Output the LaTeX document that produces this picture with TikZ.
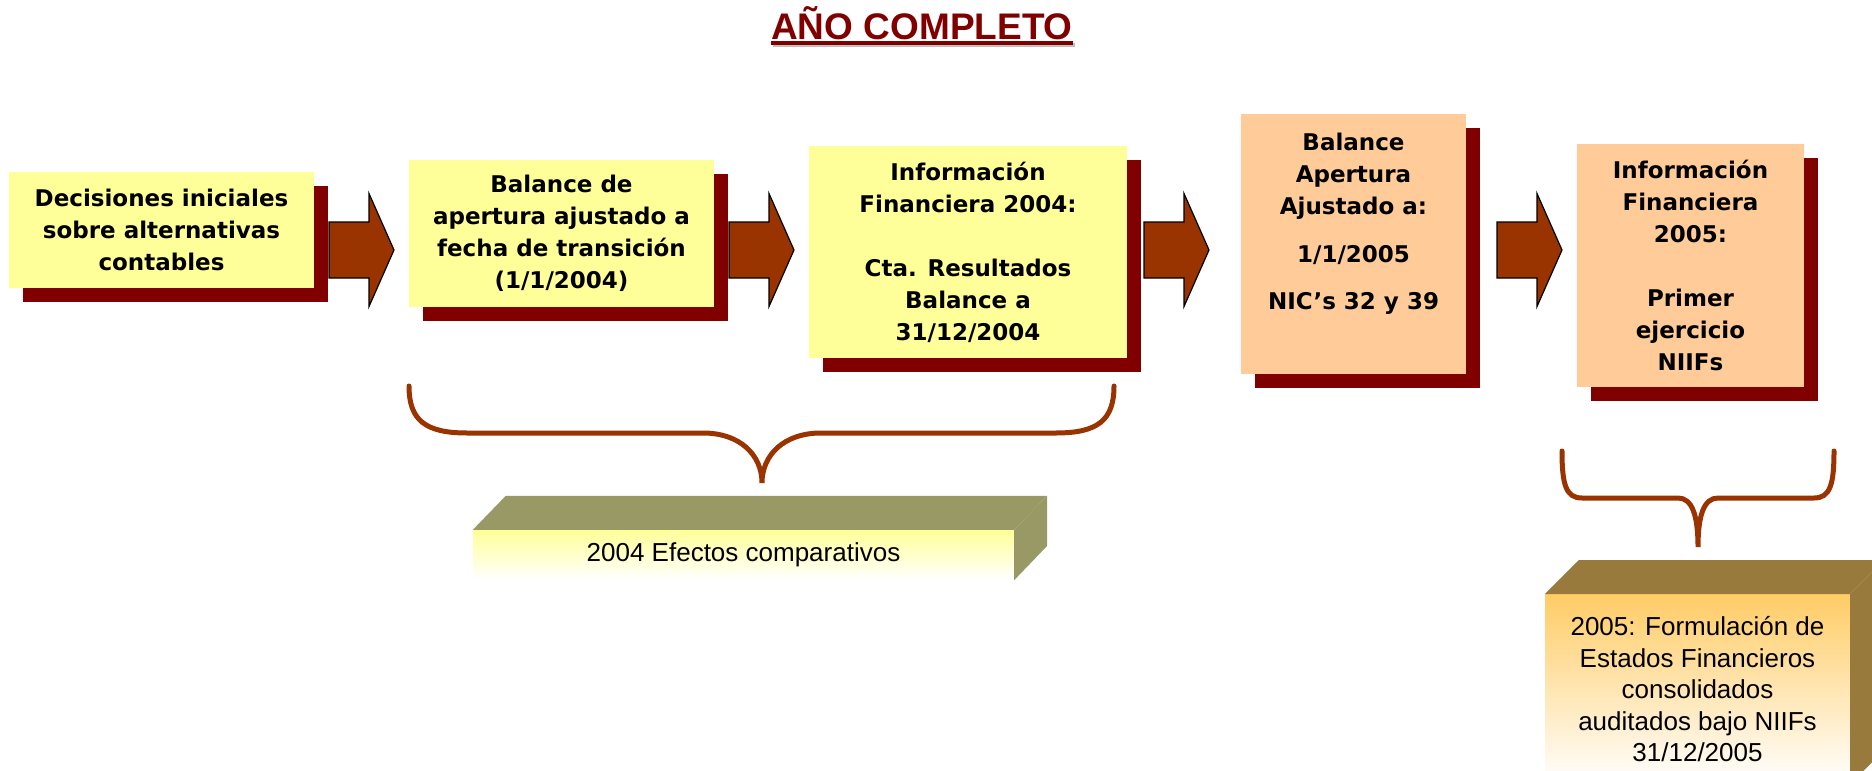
\documentclass[tikz,border=0pt]{standalone}
\usepackage{fontspec}
\setmainfont{DejaVu Sans}
\newfontfamily\plainfont{Liberation Sans}
\usetikzlibrary{positioning,shadows}

\definecolor{paleyellow}{HTML}{FFFF99}
\definecolor{peach}{HTML}{FFCC99}
\definecolor{darkred}{HTML}{800000}
\definecolor{rust}{HTML}{993300}
\definecolor{olive}{HTML}{999966}
\definecolor{ochre}{HTML}{997A3D}
\definecolor{gold}{HTML}{FFCC66}

\tikzset{pics/blockarrow/.style = {code = {
  \draw[draw=black, fill=rust, line width=1.2pt, line join=miter]
    (0,-28) -- (40,-28) -- (40,-56.5) -- (65,0) -- (40,56.5) -- (40,28) -- (0,28) -- cycle;}}}

\begin{document}
\begin{tikzpicture}[x=1pt, y=-1pt,
  box/.style = {fill=#1, align=center, inner sep=0pt,
    font=\fontsize{23}{32}\selectfont\bfseries,
    drop shadow={shadow xshift=13.5pt, shadow yshift=-13.5pt, fill=darkred, opacity=1}},
  brace/.style = {draw=rust, line width=5pt, line cap=round},
  slab/.style = {align=center, inner sep=0pt,
    font=\plainfont\fontsize{26}{31.5}\selectfont}]

      \useasboundingbox (0,0) rectangle (1872,771);

      % title
      \node[font=\plainfont\fontsize{37}{40}\selectfont\bfseries, text=darkred,
        inner sep=0pt, anchor=base] (title) at (922,39) {AÑO COMPLETO};
      \draw[line width=4pt, black!25] ([shift={(2pt,-6pt)}]title.base west) -- ([shift={(2pt,-6pt)}]title.base east);
      \draw[line width=4pt, darkred] ([yshift=-4pt]title.base west) -- ([yshift=-4pt]title.base east);

      % steps
      \node[box=paleyellow, minimum width=305, minimum height=116] (dec) at (161.5,230)
        {Decisiones iniciales\\sobre alternativas\\contables};
      \node[box=paleyellow, minimum width=305, minimum height=147] (apert) at (561.5,233.5)
        {Balance de\\apertura ajustado a\\fecha de transición\\(1/1/2004)};
      \node[box=paleyellow, minimum width=318, minimum height=212] (info04) at (968,252)
        {Información\\Financiera 2004:\\[32pt]Cta. Resultados\\Balance a\\31/12/2004};
      \node[box=peach, minimum width=225, minimum height=260] (bal05) at (1353.5,244)
        {Balance\\Apertura\\Ajustado a:\\[16pt]1/1/2005\\[15pt]NIC’s 32 y 39\\[4pt]\strut};
      \node[box=peach, minimum width=227, minimum height=243] (info05) at (1690.5,265.5)
        {Información\\Financiera\\2005:\\[32pt]Primer\\ejercicio\\NIIFs};

      \pic (ar1) at (329,250) {blockarrow};
      \pic (ar2) at (729,250) {blockarrow};
      \pic (ar3) at (1144,250) {blockarrow};
      \pic (ar4) at (1497,250) {blockarrow};

      % braces
      \draw[brace] (409,386) .. controls (409,420) and (425,433) .. (467,433) -- (703,433)
        .. controls (740,433) and (762,455) .. (762,483)
        .. controls (762,455) and (784,433) .. (821,433) -- (1056,433)
        .. controls (1098,433) and (1114,420) .. (1114,386);
      \draw[brace] (1562,451) .. controls (1562,485) and (1566,498) .. (1582,498) -- (1678,498)
        .. controls (1692,498) and (1698,515) .. (1698,547)
        .. controls (1698,515) and (1704,498) .. (1718,498) -- (1814,498)
        .. controls (1830,498) and (1834,485) .. (1834,451);

      % 3d slabs
      \node[slab, minimum width=541, minimum height=50, top color=paleyellow, bottom color=white] (eff)
        at (743.5,555) {2004 Efectos comparativos};
      \fill[olive] (eff.north west) -- ++(33,-34) -- ([shift={(33,-34)}]eff.north east) -- (eff.north east) -- cycle;
      \fill[olive] (eff.north east) -- ++(33,-34) -- ++(0,50) -- (eff.south east) -- cycle;

      \node[slab, minimum width=305, minimum height=190, top color=gold, bottom color=white, anchor=north] (form)
        at (1697.5,594) {2005: Formulación de\\Estados Financieros\\consolidados\\auditados bajo NIIFs\\31/12/2005};
      \fill[ochre] (form.north west) -- ++(34,-34) -- ([shift={(34,-34)}]form.north east) -- (form.north east) -- cycle;
      \fill[ochre] (form.north east) -- ++(34,-34) -- ++(0,190) -- (form.south east) -- cycle;

\end{tikzpicture}
\end{document}
